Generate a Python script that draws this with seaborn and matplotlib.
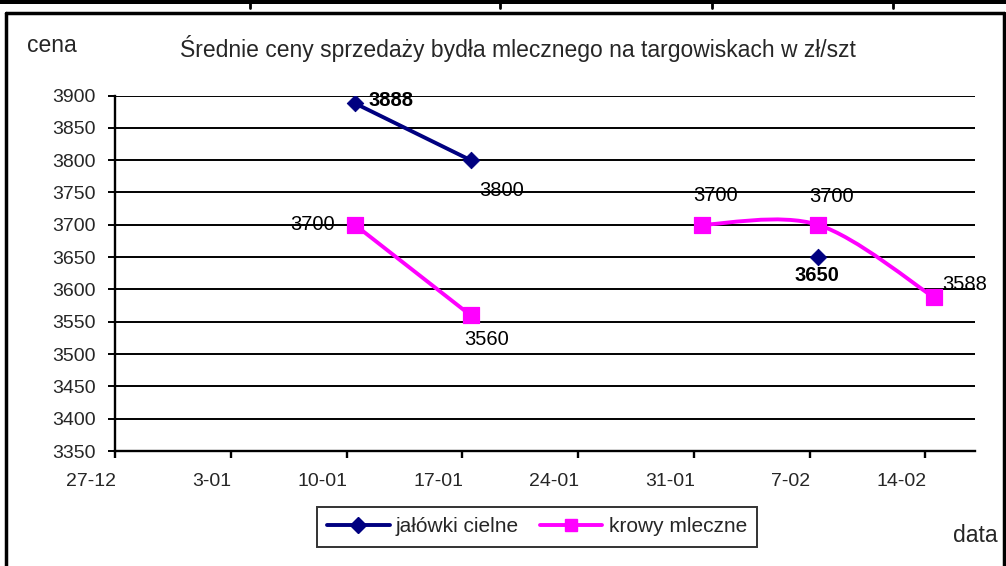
import numpy as np
import pandas as pd
import matplotlib
matplotlib.use("Agg")
import matplotlib.pyplot as plt
import matplotlib.dates as mdates
import matplotlib.transforms as mtransforms
from matplotlib.path import Path
from matplotlib.patches import PathPatch, Rectangle
from matplotlib.lines import Line2D
import seaborn as sns

# ---------------- data ----------------
title = "Średnie ceny sprzedaży bydła mlecznego na targowiskach w zł/szt"
series_names = ["jałówki cielne", "krowy mleczne"]
jal_dates = ["2005-01-10", "2005-01-17", "2005-02-07"]
jal_values = [3888, 3800, 3650]
jal_segment = [0, 0, 1]          # line segments (gaps between)
krow_dates = ["2005-01-10", "2005-01-17", "2005-01-31", "2005-02-07", "2005-02-14"]
krow_values = [3700, 3560, 3700, 3700, 3588]
krow_segment = [0, 0, 1, 1, 1]
tick_dates = ["2004-12-27", "2005-01-03", "2005-01-10", "2005-01-17",
              "2005-01-24", "2005-01-31", "2005-02-07", "2005-02-14"]
tick_labels = ["27-12", "3-01", "10-01", "17-01", "24-01", "31-01", "7-02", "14-02"]
x_min, x_max = "2004-12-27", "2005-02-17"
y_ticks = list(range(3350, 3901, 50))

navy = "#000080"
magenta = "#FF00FF"

sns.set_theme(style="white")
plt.rcParams["font.family"] = ["Liberation Sans", "DejaVu Sans"]

W, H = 1006, 566
fig = plt.figure(figsize=(W / 100, H / 100), dpi=100)
fig.patch.set_facecolor("white")

def fx(px):
    return px / W

def fy(py):
    return 1 - py / H

ax = fig.add_axes([fx(115), fy(451), fx(975) - fx(115), fy(95.5) - fy(451)])

half_day = pd.Timedelta(hours=12)   # points sit between ticks (Excel date axis)
jal = pd.DataFrame({"date": pd.to_datetime(jal_dates) + half_day,
                    "value": jal_values, "seg": jal_segment})
krow = pd.DataFrame({"date": pd.to_datetime(krow_dates) + half_day,
                     "value": krow_values, "seg": krow_segment})

LW = 2.8
# straight segments
for seg, d in jal.groupby("seg"):
    if len(d) > 1:
        sns.lineplot(data=d, x="date", y="value", ax=ax, color=navy, lw=LW,
                     legend=False, zorder=3)
d0 = krow[krow.seg == 0]
sns.lineplot(data=d0, x="date", y="value", ax=ax, color=magenta, lw=LW,
             legend=False, zorder=3)

# smoothed segment (Excel-style Bezier through the points)
d1 = krow[krow.seg == 1]
xs = mdates.date2num(d1["date"].dt.to_pydatetime())
ys = d1["value"].to_numpy(dtype=float)
n = len(xs)
verts = [(xs[0], ys[0])]
codes = [Path.MOVETO]
for i in range(n - 1):
    xp, yp = (xs[i - 1], ys[i - 1]) if i > 0 else (xs[i], ys[i])
    xn2, yn2 = (xs[i + 2], ys[i + 2]) if i + 2 < n else (xs[i + 1], ys[i + 1])
    c1 = (xs[i] + (xs[i + 1] - xp) / 6, ys[i] + (ys[i + 1] - yp) / 6)
    c2 = (xs[i + 1] - (xn2 - xs[i]) / 6, ys[i + 1] - (yn2 - ys[i]) / 6)
    verts += [c1, c2, (xs[i + 1], ys[i + 1])]
    codes += [Path.CURVE4] * 3
ax.add_patch(PathPatch(Path(verts, codes), facecolor="none", edgecolor=magenta,
                       lw=LW, zorder=3))

# markers
sns.scatterplot(data=jal, x="date", y="value", ax=ax, marker="D", s=70,
                color=navy, edgecolor=navy, zorder=5, legend=False)
sns.scatterplot(data=krow, x="date", y="value", ax=ax, marker="s", s=120,
                color=magenta, edgecolor=magenta, zorder=5, legend=False)

# data labels
FS_LAB = 14.5
jal_lab = [((14, 3), "left", "bold"), ((9, -30), "left", "normal"), ((-1, -18), "center", "bold")]
for (dt, v), (off, ha, fw) in zip(zip(jal["date"], jal["value"]), jal_lab):
    ax.annotate(str(v), (dt, v), xytext=off, textcoords="offset pixels",
                ha=ha, va="center", fontsize=FS_LAB, fontweight=fw, color="black", zorder=6)
krow_lab = [((-20, 0), "right"), ((16, -24), "center"), ((13, 29), "center"),
            ((14, 28), "center"), ((9, 13), "left")]
for (dt, v), (off, ha) in zip(zip(krow["date"], krow["value"]), krow_lab):
    ax.annotate(str(v), (dt, v), xytext=off, textcoords="offset pixels",
                ha=ha, va="center", fontsize=FS_LAB, color="black", zorder=6)

# axes
ax.set_xlim(pd.Timestamp(x_min), pd.Timestamp(x_max))
ax.set_ylim(y_ticks[0], y_ticks[-1])
ax.set_yticks(y_ticks)
ax.set_xticks(pd.to_datetime(tick_dates))
ax.set_xticklabels(tick_labels)
ax.set_xlabel("")
ax.set_ylabel("")
ax.yaxis.grid(True, color="black", lw=1.4)
ax.xaxis.grid(False)
ax.set_axisbelow(True)
for s in ["top", "right"]:
    ax.spines[s].set_visible(False)
for s in ["left", "bottom"]:
    ax.spines[s].set_color("black")
    ax.spines[s].set_linewidth(1.7)
ax.tick_params(axis="y", direction="out", length=5, width=1.4, color="black",
               labelsize=14, pad=9, left=True)
ax.tick_params(axis="x", direction="out", length=5, width=1.7, color="black",
               labelsize=14, pad=11, bottom=True)
for lab in ax.get_xticklabels():
    lab.set_horizontalalignment("right")
    lab.set_transform(lab.get_transform() +
                      mtransforms.ScaledTranslation(1 / 100, 0, fig.dpi_scale_trans))

# texts
fig.text(fx(27), fy(46), "cena", fontsize=16.5, ha="left", va="center")
fig.text(fx(518), fy(49), title, fontsize=16.5, ha="center", va="center")
fig.text(fx(975), fy(536), "data", fontsize=16.5, ha="center", va="center")

# legend
handles = [Line2D([], [], color=navy, lw=LW, marker="D", markersize=8),
           Line2D([], [], color=magenta, lw=LW, marker="s", markersize=9)]
leg = fig.legend(handles, series_names, loc="center", ncol=2,
                 bbox_to_anchor=(fx(537), fy(527)), fontsize=15, frameon=True,
                 fancybox=False, edgecolor="black", handlelength=3.0,
                 handletextpad=0.3, columnspacing=1.0, borderpad=0.5)
leg.get_frame().set_linewidth(1.4)

# outer frame and top table fragment
fig.add_artist(Line2D([fx(6), fx(6)], [fy(13), 0], color="black", lw=2.5))
fig.add_artist(Line2D([fx(6), fx(1004)], [fy(13), fy(13)], color="black", lw=2.5))
fig.add_artist(Line2D([fx(1004), fx(1004)], [fy(13), 0], color="black", lw=2.5))
fig.add_artist(Rectangle((0, fy(4)), 1, fy(0) - fy(4), color="black", lw=0))
for xv in [250, 500, 712, 893]:
    fig.add_artist(Line2D([fx(xv), fx(xv)], [fy(0), fy(8)], color="black", lw=2))

fig.savefig("out.png", dpi=100)
